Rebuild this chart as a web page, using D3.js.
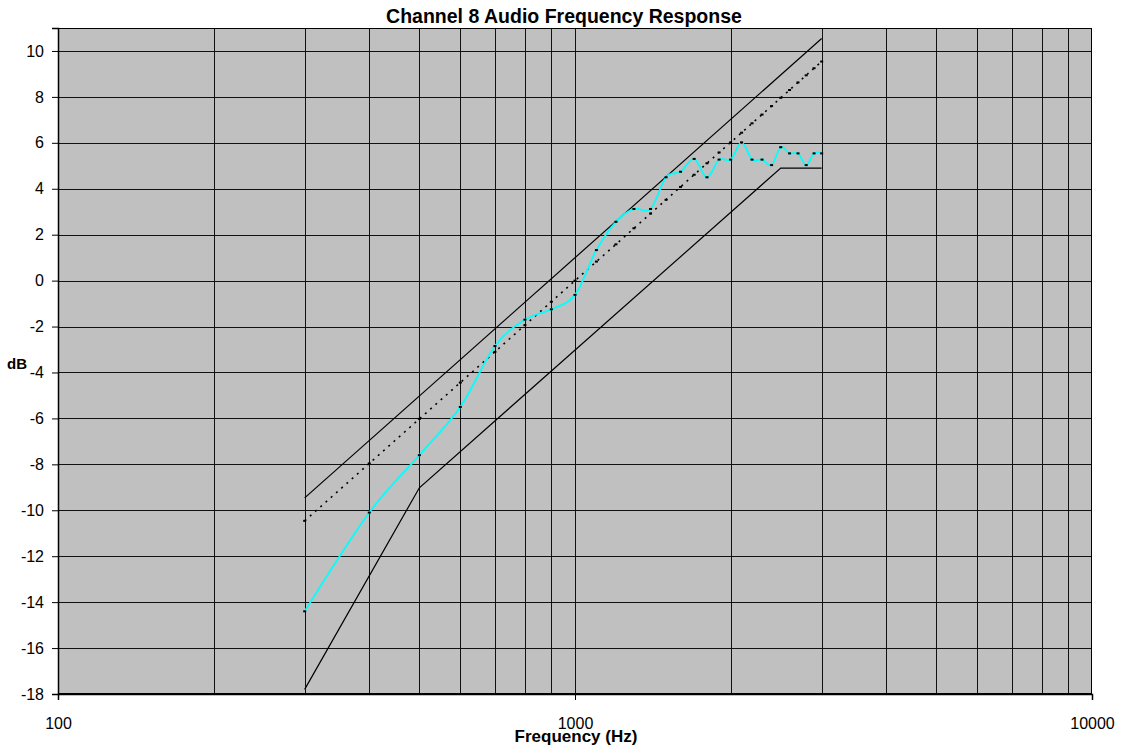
<!DOCTYPE html>
<html>
<head>
<meta charset="utf-8">
<script src="https://cdn.jsdelivr.net/npm/d3@7/dist/d3.min.js"></script>
<style>
  html, body { margin: 0; padding: 0; background: #ffffff; }
  svg { display: block; }
  text { font-family: "Liberation Sans", Arial, Helvetica, sans-serif; fill: #000; }
</style>
</head>
<body>
<svg id="chart" width="1125" height="753"></svg>
<script>
// ---------- data ----------
const title = "Channel 8 Audio Frequency Response";
const xTitle = "Frequency (Hz)";
const yTitle = "dB";

const freqs = [300, 400, 500, 600, 700, 800, 900, 1000, 1100, 1200, 1300, 1400, 1500,
  1600, 1700, 1800, 1900, 2000, 2100, 2200, 2300, 2400, 2500, 2600, 2700, 2800, 2900, 3000];

const measured = [-14.4, -10.1, -7.6, -5.5, -2.85, -1.7, -1.25, -0.62, 1.33, 2.56, 3.12, 3.12, 4.5,
  4.74, 5.3, 4.5, 5.27, 5.27, 6.02, 5.27, 5.27, 5.03, 5.81, 5.54, 5.54, 5.03, 5.54, 5.54];

const nominal = [-10.46, -7.96, -6.02, -4.44, -3.10, -1.94, -0.92, 0, 0.83, 1.58, 2.28, 2.92, 3.52,
  4.08, 4.61, 5.11, 5.58, 6.02, 6.44, 6.85, 7.23, 7.60, 7.96, 8.30, 8.63, 8.94, 9.25, 9.54];

const upperFreqs = [300, 3000];
const upperDb = [-9.46, 10.54];

const lowerFreqs = [300, 500, 2500, 3000];
const lowerDb = [-17.8, -9.02, 4.9, 4.9];

const xTickValues = [100, 1000, 10000];
const xGridValues = [200, 300, 400, 500, 600, 700, 800, 900, 1000, 2000, 3000, 4000, 5000, 6000, 7000, 8000, 9000];
const yTickValues = [-18, -16, -14, -12, -10, -8, -6, -4, -2, 0, 2, 4, 6, 8, 10];

// ---------- layout ----------
(function () {
const svg = d3.select("#chart");
const pL = 58, pR = 1092, pT = 28, pB = 694;

const x = d3.scaleLog().domain([100, 10000]).range([pL, pR]);
const y = d3.scaleLinear().domain([-18, 11]).range([pB, pT]);

// plot background
svg.append("rect")
  .attr("x", pL).attr("y", pT)
  .attr("width", pR - pL).attr("height", pB - pT)
  .attr("fill", "#c0c0c0");

// grid
const grid = svg.append("g").attr("shape-rendering", "crispEdges");
grid.selectAll("line.v").data(xGridValues).join("line")
  .attr("x1", d => Math.round(x(d)) + 0.5).attr("x2", d => Math.round(x(d)) + 0.5)
  .attr("y1", pT).attr("y2", pB)
  .attr("stroke", "#111").attr("stroke-width", 1);
grid.selectAll("line.h").data(yTickValues.filter(d => d > -18)).join("line")
  .attr("x1", pL).attr("x2", pR)
  .attr("y1", d => Math.round(y(d)) + 0.5).attr("y2", d => Math.round(y(d)) + 0.5)
  .attr("stroke", "#111").attr("stroke-width", 1);

// frame
svg.append("rect")
  .attr("x", pL + 0.5).attr("y", pT + 0.5)
  .attr("width", pR - pL - 1).attr("height", pB - pT - 1)
  .attr("fill", "none").attr("stroke", "#000").attr("stroke-width", 1)
  .attr("shape-rendering", "crispEdges");

// axes
const fmt = d => String(d);
const yAxis = d3.axisLeft(y).tickValues(yTickValues).tickSize(6).tickPadding(8).tickFormat(fmt);
const gy = svg.append("g").attr("transform", `translate(${pL},0)`).call(yAxis);
gy.select(".domain").attr("stroke", "#000").attr("stroke-width", 1.5);
gy.selectAll(".tick line").attr("stroke", "#000");
gy.selectAll(".tick text").attr("font-size", 16).attr("font-family", "Liberation Sans, Arial, sans-serif").attr("fill", "#000");

const xAxis = d3.axisBottom(x).tickValues(xTickValues).tickSize(6).tickPadding(18).tickFormat(fmt);
const gx = svg.append("g").attr("transform", `translate(0,${pB})`).call(xAxis);
gx.select(".domain").attr("stroke", "#000").attr("stroke-width", 1.5);
gx.selectAll(".tick line").attr("stroke", "#000");
gx.selectAll(".tick text").attr("font-size", 16).attr("font-family", "Liberation Sans, Arial, sans-serif").attr("fill", "#000");

// series
svg.append("defs").append("clipPath").attr("id", "plotclip")
  .append("rect").attr("x", pL).attr("y", pT).attr("width", pR - pL).attr("height", pB - pT);
const series = svg.append("g").attr("clip-path", "url(#plotclip)");

const straight = d3.line().x(d => x(d[0])).y(d => y(d[1]));
const smooth = d3.line().x(d => x(d[0])).y(d => y(d[1])).curve(d3.curveCardinal.tension(0));

series.append("path")
  .datum(upperFreqs.map((f, i) => [f, upperDb[i]]))
  .attr("d", straight).attr("fill", "none").attr("stroke", "#000").attr("stroke-width", 1.2);

series.append("path")
  .datum(lowerFreqs.map((f, i) => [f, lowerDb[i]]))
  .attr("d", straight).attr("fill", "none").attr("stroke", "#000").attr("stroke-width", 1.2);

const nomData = freqs.map((f, i) => [f, nominal[i]]);
series.append("path")
  .datum(nomData)
  .attr("d", straight).attr("fill", "none").attr("stroke", "#000")
  .attr("stroke-width", 1.6).attr("stroke-dasharray", "2,5");

const measData = freqs.map((f, i) => [f, measured[i]]);
series.append("path")
  .datum(measData)
  .attr("d", smooth).attr("fill", "none").attr("stroke", "#00ffff").attr("stroke-width", 1.8);

// small markers
series.selectAll("rect.nm").data(nomData).join("rect")
  .attr("class", "nm")
  .attr("x", d => x(d[0]) - 1.5).attr("y", d => y(d[1]) - 1)
  .attr("width", 3).attr("height", 2).attr("fill", "#000");
series.selectAll("rect.mm").data(measData).join("rect")
  .attr("class", "mm")
  .attr("x", d => x(d[0]) - 1.5).attr("y", d => y(d[1]) - 1)
  .attr("width", 3).attr("height", 2).attr("fill", "#000");

// titles
svg.append("text")
  .attr("x", 564).attr("y", 23)
  .attr("text-anchor", "middle")
  .attr("font-size", 19.5).attr("font-weight", "bold")
  .text(title);

svg.append("text")
  .attr("x", 576).attr("y", 742)
  .attr("text-anchor", "middle")
  .attr("font-size", 17).attr("font-weight", "bold")
  .text(xTitle);

svg.append("text")
  .attr("x", 7).attr("y", 369)
  .attr("text-anchor", "start")
  .attr("font-size", 15).attr("font-weight", "bold")
  .text(yTitle);
})();
</script>
</body>
</html>
